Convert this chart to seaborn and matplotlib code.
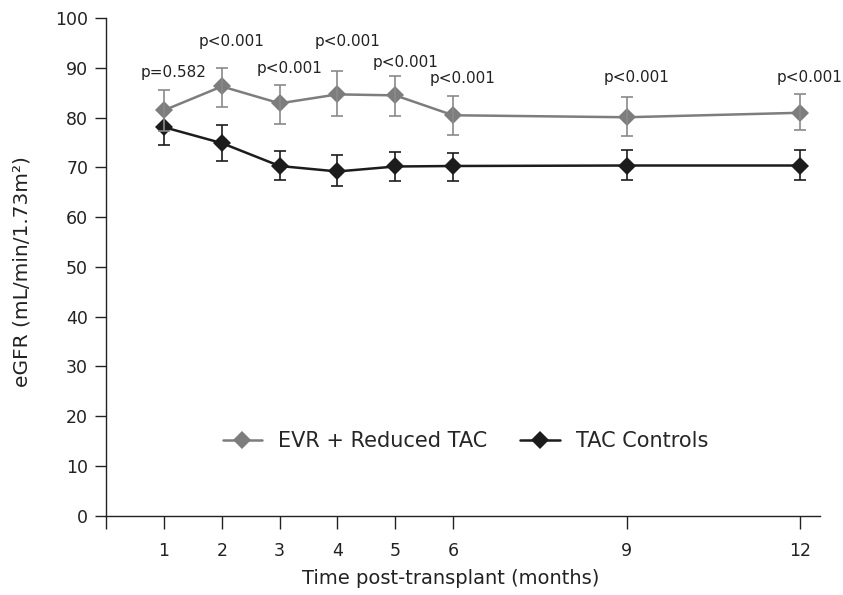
import pandas as pd
import matplotlib
matplotlib.use("Agg")
import matplotlib.pyplot as plt
import seaborn as sns

# Dados
months = [1, 2, 3, 4, 5, 6, 9, 12]
groups = ["EVR + Reduced TAC", "TAC Controls"]

evr_mean = [81.5, 86.3, 82.9, 84.7, 84.5, 80.5, 80.1, 81.0]
evr_low = [77.3, 82.1, 78.7, 80.3, 80.3, 76.6, 76.3, 77.6]
evr_high = [85.5, 90.0, 86.5, 89.3, 88.4, 84.3, 84.1, 84.7]

tac_mean = [78.1, 74.9, 70.3, 69.2, 70.2, 70.3, 70.4, 70.4]
tac_low = [74.6, 71.4, 67.5, 66.3, 67.2, 67.2, 67.4, 67.4]
tac_high = [81.5, 78.6, 73.3, 72.5, 73.2, 73.0, 73.6, 73.5]

p_labels = ["p=0.582", "p<0.001", "p<0.001", "p<0.001",
            "p<0.001", "p<0.001", "p<0.001", "p<0.001"]
p_heights = [88.2, 94.4, 89.0, 94.4, 90.2, 86.9, 87.2, 87.2]

xticks = [0, 1, 2, 3, 4, 5, 6, 9, 12]
xticklabels = ["", "1", "2", "3", "4", "5", "6", "9", "12"]
yticks = list(range(0, 101, 10))

df = pd.DataFrame({
    "month": months * 2,
    "egfr": evr_mean + tac_mean,
    "group": [groups[0]] * len(months) + [groups[1]] * len(months),
})

sns.set_theme(style="ticks")
plt.rcParams["font.family"] = ["DejaVu Sans"]

colors = {groups[0]: "#7d7d7d", groups[1]: "#1c1c1c"}
err_colors = {groups[0]: "#8a8a8a", groups[1]: "#1c1c1c"}

fig = plt.figure(figsize=(8.43, 5.95), dpi=100)
ax = fig.add_axes([0.126, 0.1333, 0.847, 0.836])

# Barras de erro
for g, m, lo, hi, z in [(groups[1], tac_mean, tac_low, tac_high, 2),
                        (groups[0], evr_mean, evr_low, evr_high, 4)]:
    yerr = [[a - b for a, b in zip(m, lo)], [b - a for a, b in zip(m, hi)]]
    ax.errorbar(months, m, yerr=yerr, fmt="none", ecolor=err_colors[g],
                elinewidth=1.2, capsize=4, capthick=1.2, zorder=z)

sns.lineplot(data=df, x="month", y="egfr", hue="group", style="group",
             palette=colors, markers=["D", "D"], dashes=False,
             markersize=9, markeredgewidth=0, linewidth=1.8, ax=ax, zorder=3)

for x, lab, h in zip(months, p_labels, p_heights):
    ax.text(x + 0.17, h, lab, ha="center", va="baseline", fontsize=11, color="#222222")

ax.set_xlim(0, 12.35)
ax.set_ylim(0, 100)
ax.set_xticks(xticks)
ax.set_xticklabels(xticklabels)
ax.set_yticks(yticks)
ax.tick_params(axis="both", direction="out", width=1, labelsize=12.5, colors="#222222")
ax.tick_params(axis="x", length=9, pad=10)
ax.tick_params(axis="y", length=8, pad=5)
for s in ["top", "right"]:
    ax.spines[s].set_visible(False)
for s in ["left", "bottom"]:
    ax.spines[s].set_color("#222222")
    ax.spines[s].set_linewidth(1)

ax.set_xlabel("Time post-transplant (months)", fontsize=14, color="#222222")
ax.set_ylabel("eGFR (mL/min/1.73m²)", fontsize=14.5, color="#222222")
ax.xaxis.set_label_coords(0.482, -0.107)
ax.yaxis.set_label_coords(-0.104, 0.49)

sns.move_legend(ax, loc="center", bbox_to_anchor=(0.503, 0.15), ncol=2,
                frameon=False, title=None, fontsize=15, handlelength=1.9,
                columnspacing=1.6, handletextpad=0.75)

fig.savefig("out.png", dpi=100)
